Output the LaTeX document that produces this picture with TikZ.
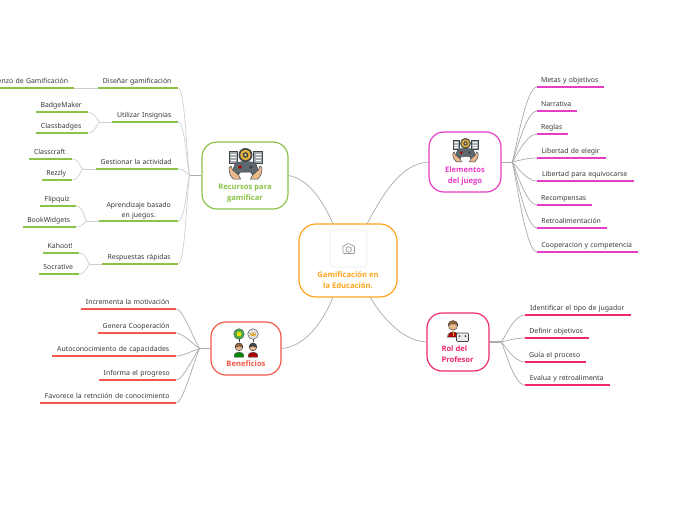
\documentclass[tikz,border=0pt]{standalone}
\usepackage{fontspec}
\setmainfont{Noto Sans}
\newfontfamily\topicfont{Open Sans}
\definecolor{cGreen}{HTML}{8BC34A}
\definecolor{cMag}{HTML}{E73CC6}
\definecolor{cRed}{HTML}{F2584A}
\definecolor{cRose}{HTML}{EE2A68}
\definecolor{cOrange}{HTML}{FFA31A}
\definecolor{cText}{HTML}{3A3A3A}
\definecolor{cLine}{HTML}{ABABAB}
\definecolor{cLineG}{HTML}{CFCFCF}
\definecolor{cDark}{HTML}{3F4448}
\definecolor{cSkin}{HTML}{E9B98C}
\definecolor{cPanel}{HTML}{A4ACB0}
\definecolor{cPad}{HTML}{5E686F}
\definecolor{cGold}{HTML}{E0AE3A}
\tikzset{
  topic/.style={draw=#1,text=#1,line width=1.2pt,rounded corners=15pt,inner sep=0pt,align=center,
    font=\fontsize{7.6}{11}\topicfont\bfseries\selectfont},
  leaf/.style={inner xsep=0pt,inner ysep=4.6pt,text depth=0pt,anchor=south west,align=center,text=cText,
    font=\fontsize{6.9}{10}\selectfont},
  ul/.style={draw=#1,line width=1.3pt},
  conn/.style={draw=cLine,line width=0.7pt},
  conng/.style={draw=cLineG,line width=0.7pt},
  imgbox/.style={draw=black!8,fill=white,rounded corners=3pt,line width=0.6pt,minimum width=37pt,minimum height=37pt,inner sep=0pt},
}
% name, x1, x2, y, colour, text
\newcommand\leafnode[6]{%
  \pgfmathsetmacro\lw{#3-(#2)}%
  \node[leaf,text width=\lw pt] (#1) at (#2,#4) {#6\hspace*{2pt}};
  \draw[ul=#5] (#1.south west) -- (#1.south east);}
\newcommand\fanR[2]{\draw[conn] (#1) .. controls ([xshift=2pt]#1) and ([xshift=-12pt]#2.south west) .. (#2.south west);}
\newcommand\fanL[3][conn]{\draw[#1] (#2) .. controls ([xshift=-2.5pt]#2) and ([xshift=7pt]#3.south east) .. (#3.south east);}
% controller icon
\newcommand\padicon[3]{%
\begin{scope}[shift={(#1,#2)},scale=#3,line width=0.5pt]
  \draw[cDark,fill=cPanel] (-16.5,3) rectangle (-8,15);
  \draw[cDark,fill=cPanel] (8,3) rectangle (16.5,15);
  \draw[white,line width=0.8pt] (-15,6) -- (-10,6) (-15,9) -- (-10,9) (-15,12) -- (-10,12)
     (10,6) -- (15,6) (10,9) -- (15,9) (10,12) -- (15,12);
  \fill[cDark] (0,7) circle (7);
  \fill[cGold] (0,7) circle (5.4);
  \fill[cDark] (0,7) circle (2.8);
  \fill[cGold!60!white] (0,7) circle (1.4);
  \draw[cDark,fill=cPad] (-10,15) .. controls (-4,13) and (4,13) .. (10,15) -- (14,25) -- (9,29) -- (5,24) -- (-5,24) -- (-9,29) -- (-14,25) -- cycle;
  \draw[cDark,fill=cSkin] (-16.5,20) .. controls (-16.5,25) and (-15,29) .. (-12,31) -- (-5,31) -- (-7,27) -- (-13,22) -- (-14.5,18) -- cycle;
  \draw[cDark,fill=cSkin] (16.5,20) .. controls (16.5,25) and (15,29) .. (12,31) -- (5,31) -- (7,27) -- (13,22) -- (14.5,18) -- cycle;
  \fill[red!70!black] (-5.5,19) circle (1.9);
  \fill[cDark] (5.5,19) circle (1.9);
\end{scope}}
% person icon: x, top, hair, shirt
\newcommand\personicon[4]{%
\begin{scope}[shift={(#1,#2)},line width=0.5pt]
  \draw[cDark,fill=#4] (-4.6,13) .. controls (-4.6,9.5) and (4.6,9.5) .. (4.6,13) -- (4.6,15) -- (-4.6,15) -- cycle;
  \draw[cDark,fill=cSkin] (0,5) circle (3.8);
  \draw[cDark,fill=#3] (-3.8,5.5) .. controls (-4.4,-0.5) and (4.4,-0.5) .. (3.8,5.5) .. controls (2,3.5) and (-1,3.5) .. (-3.8,5.5) -- cycle;
\end{scope}}
\begin{document}
\begin{tikzpicture}[x=1pt,y=-1pt]
\useasboundingbox (0,0) rectangle (696,520);
\fill[white] (0,0) rectangle (696,520);

% central topic and main topics
\node[topic=cOrange,rounded corners=17pt,minimum width=98pt,minimum height=73pt] (center) at (348,260.5)
  {\rule{0pt}{37pt}\\Gamificación en\\la Educación.\rule[-2.5pt]{0pt}{2.5pt}};
\node[topic=cGreen,minimum width=86pt,minimum height=67pt] (recursos) at (245,175.5)
  {\rule{0pt}{30.5pt}\\Recursos para\\gamificar\rule[-2.5pt]{0pt}{2.5pt}};
\node[topic=cMag,minimum width=72pt,minimum height=60pt] (elementos) at (465,162)
  {\rule{0pt}{23.5pt}\\Elementos\\del juego\rule[-2.5pt]{0pt}{2.5pt}};
\node[topic=cRed,minimum width=70pt,minimum height=53pt] (beneficios) at (246,348.5)
  {\rule{0pt}{27.5pt}\\Beneficios\rule[-2.5pt]{0pt}{2.5pt}};
\node[topic=cRose,minimum width=62pt,minimum height=58pt] (rol) at (458,342)
  {\rule{0pt}{21.5pt}\\\makebox[33pt][l]{Rol del}\\\makebox[33pt][l]{Profesor}\rule[-2.5pt]{0pt}{2.5pt}};

% icons
\node[imgbox] (photo) at (348.5,248.5) {};
\begin{scope}[draw=black!40,line width=0.7pt]
  \draw[rounded corners=1pt] (343,245.5) -- (345.5,245.5) -- (346.5,243.8) -- (350.5,243.8) -- (351.5,245.5) -- (354.5,245.5) -- (354.5,253.5) -- (343,253.5) -- cycle;
  \draw (348.7,249.5) circle (2.7);
\end{scope}
\padicon{245.5}{148}{1}
\padicon{465.5}{138}{0.77}
% Beneficios icon
\draw[cDark,fill=green!55!black!70] (239,334) circle (5.3);
\fill[yellow!80!orange] (239,334) circle (2.3);
\draw[cDark,fill=black!12] (253,334) circle (5.3);
\fill[cGold] (250,332.5) -- (251.5,334) -- (253,332) -- (254.5,334) -- (256,332.5) -- (255.5,336) -- (250.5,336) -- cycle;
\draw[cDark] (239,339.3) -- (239,342) (253,339.3) -- (253,342);
\personicon{239}{342}{brown!80!black}{green!55!black}
\personicon{253}{342}{cDark}{red!70!black}
% Rol icon
\begin{scope}[line width=0.5pt]
  \draw[cDark,fill=red!70!black] (447.5,337) .. controls (447.5,330) and (458.5,330) .. (458.5,337) -- cycle;
  \draw[cGold,line width=1pt] (453,331) -- (453,336);
  \draw[cDark,fill=cSkin] (453,325.5) circle (4.6);
  \draw[cDark,fill=brown!80!black] (448.4,325.5) .. controls (448,319) and (458,319) .. (457.6,325.5) .. controls (455,323) and (451,323) .. (448.4,325.5) -- cycle;
  \draw[cDark,fill=black!8,rounded corners=1pt,line width=0.7pt] (456.5,333) rectangle (468.5,341.5);
  \fill[cDark] (459.5,336) circle (1) (465.5,336) circle (1);
\end{scope}

% main connectors
\coordinate (cNW) at (333,224);
\coordinate (cNE) at (367,224);
\coordinate (cSW) at (333,297);
\coordinate (cSE) at (370,297);
\draw[conn] (cNW) .. controls (325,205) and (310,179) .. (recursos.east);
\draw[conn] (cNE) .. controls (385,190) and (402,164) .. (elementos.west);
\draw[conn] (cSW) .. controls (322,325) and (303,347) .. (beneficios.east);
\draw[conn] (cSE) .. controls (385,322) and (405,341) .. (rol.west);

% Elementos del juego
\coordinate (jE) at (512,162);
\draw[conn] (elementos.east) -- (jE);
\leafnode{e1}{537}{604}{87}{cMag}{Metas y objetivos}
\leafnode{e2}{537}{577}{111}{cMag}{Narrativa}
\leafnode{e3}{537}{568}{134}{cMag}{Reglas}
\leafnode{e4}{537}{606}{158}{cMag}{Libertad de elegir}
\leafnode{e5}{537}{634}{181}{cMag}{Libertad para equivocarse}
\leafnode{e6}{537}{592}{205}{cMag}{Recompensas}
\leafnode{e7}{537}{607}{228}{cMag}{Retroalimentación}
\leafnode{e8}{537}{638}{252}{cMag}{Cooperacion y competencia}
\fanR{jE}{e1}\fanR{jE}{e2}\fanR{jE}{e3}\fanR{jE}{e4}\fanR{jE}{e5}\fanR{jE}{e6}\fanR{jE}{e7}\fanR{jE}{e8}

% Rol del Profesor
\coordinate (jR) at (501,342);
\draw[conn,line width=1.1pt] (rol.east) -- (jR);
\leafnode{r1}{525}{631}{315}{cRose}{Identificar el tipo de jugador}
\leafnode{r2}{525}{589}{338}{cRose}{Definir objetivos}
\leafnode{r3}{525}{586}{362}{cRose}{Guía el proceso}
\leafnode{r4}{525}{610}{385}{cRose}{Evalua y retroalimenta}
\fanR{jR}{r1}\fanR{jR}{r2}\fanR{jR}{r3}\fanR{jR}{r4}

% Beneficios
\coordinate (jB) at (200,348.5);
\draw[conn] (beneficios.west) -- (jB);
\leafnode{b1}{81}{176}{309}{cRed}{Incrementa la motivación}
\leafnode{b2}{98}{176}{333}{cRed}{Genera Cooperación}
\leafnode{b3}{52}{176}{356}{cRed}{Autoconocimiento de capacidades}
\leafnode{b4}{99}{176}{380}{cRed}{Informa el progreso}
\leafnode{b5}{40}{176}{403}{cRed}{Favorece la retnciión de conocimiento}
\fanL{jB}{b1}\fanL{jB}{b2}\fanL{jB}{b3}\fanL{jB}{b4}\fanL{jB}{b5}

% Recursos para gamificar
\coordinate (jG) at (190,175.5);
\draw[conn] (recursos.west) -- (jG);
\leafnode{g1}{98}{178}{88}{cGreen}{Diseñar gamificación}
\leafnode{g2}{112}{178}{122}{cGreen}{Utilizar Insignias}
\leafnode{g3}{96}{178}{169}{cGreen}{Gestionar la actividad}
\node[leaf,text width=79pt,text depth=10pt,inner ysep=3.8pt] (g4) at (99,221) {Aprendizaje basado\\en juegos.};
\draw[ul=cGreen] (g4.south west) -- (g4.south east);
\leafnode{g5}{102}{178}{264}{cGreen}{Respuestas rápidas}
\fanL[conng]{jG}{g1}\fanL[conng]{jG}{g2}\fanL[conng]{jG}{g3}\fanL[conng]{jG}{g4}\fanL[conng]{jG}{g5}

% Grandchildren
\leafnode{g11}{-12}{74}{88}{cGreen}{Lienzo de Gamificación}
\draw[conng] (g1.south west) -- (g11.south east);
\coordinate (j2) at (100,122);
\draw[conng] (g2.south west) -- (j2);
\leafnode{g21}{36}{88}{112}{cGreen}{BadgeMaker}
\leafnode{g22}{36}{88}{133}{cGreen}{Classbadges}
\fanL[conng]{j2}{g21}\fanL[conng]{j2}{g22}
\coordinate (j3) at (83,169);
\draw[conng] (g3.south west) -- (j3);
\leafnode{g31}{29}{72}{159}{cGreen}{Classcraft}
\leafnode{g32}{42}{72}{180}{cGreen}{Rezzly}
\fanL[conng]{j3}{g31}\fanL[conng]{j3}{g32}
\coordinate (j4) at (87,221);
\draw[conng] (g4.south west) -- (j4);
\leafnode{g41}{40}{76}{206}{cGreen}{Flipquiz}
\leafnode{g42}{23}{76}{227}{cGreen}{BookWidgets}
\fanL[conng]{j4}{g41}\fanL[conng]{j4}{g42}
\coordinate (j5) at (90,264);
\draw[conng] (g5.south west) -- (j5);
\leafnode{g51}{43}{79}{253}{cGreen}{Kahoot!}
\leafnode{g52}{39}{79}{274}{cGreen}{Socrative}
\fanL[conng]{j5}{g51}\fanL[conng]{j5}{g52}
\end{tikzpicture}
\end{document}
